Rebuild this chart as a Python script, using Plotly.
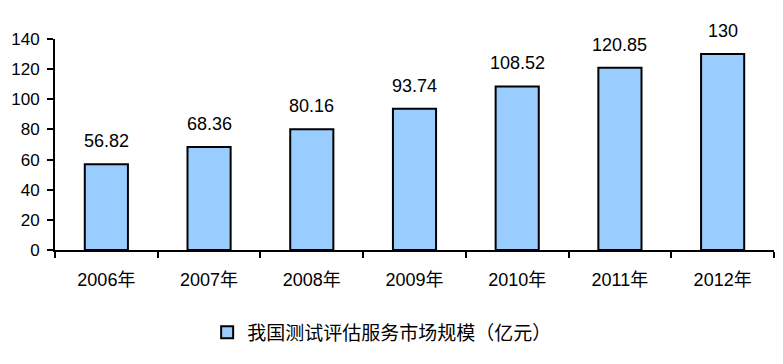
import plotly.graph_objects as go

years = ["2006年", "2007年", "2008年", "2009年", "2010年", "2011年", "2012年"]
values = [56.82, 68.36, 80.16, 93.74, 108.52, 120.85, 130]
labels = ["56.82", "68.36", "80.16", "93.74", "108.52", "120.85", "130"]
series_name = "我国测试评估服务市场规模（亿元）"
y_ticks = [0, 20, 40, 60, 80, 100, 120, 140]

font_fam = "Liberation Sans, Arial, Noto Sans CJK SC, sans-serif"

fig = go.Figure(go.Bar(
    x=years, y=values, name=series_name,
    marker=dict(color="#99CCFF", line=dict(color="black", width=2)),
    width=0.42, showlegend=True,
))

for xv, yv, t in zip(years, values, labels):
    fig.add_annotation(
        x=xv, y=yv, text=t, showarrow=False,
        xanchor="center", yanchor="bottom", yshift=11,
        font=dict(size=18, color="black", family=font_fam),
    )

# page body has an 8px margin, so the figure is shrunk by 8px and margins compensated
fig.update_layout(
    width=775, height=356,
    margin=dict(l=47, r=9, t=31, b=114, autoexpand=False),
    plot_bgcolor="white", paper_bgcolor="white",
    font=dict(family=font_fam, color="black"),
    xaxis=dict(
        showline=True, linecolor="black", linewidth=2,
        ticks="outside", ticklen=6, tickwidth=2, tickcolor="black",
        tickson="boundaries", automargin=False, ticklabelstandoff=12,
        tickfont=dict(size=18, family=font_fam),
        showgrid=False,
    ),
    yaxis=dict(
        range=[0, 140], tickvals=y_ticks, automargin=False,
        showline=True, linecolor="black", linewidth=2,
        ticks="outside", ticklen=6, tickwidth=2, tickcolor="black",
        ticklabelstandoff=4,
        tickfont=dict(size=17, family=font_fam),
        showgrid=False, zeroline=False,
    ),
    legend=dict(
        orientation="h", x=0.455, xanchor="center", y=-0.39, yanchor="middle",
        font=dict(size=19, family="Noto Sans CJK SC, sans-serif"),
    ),
)

fig.write_html("out.html")
